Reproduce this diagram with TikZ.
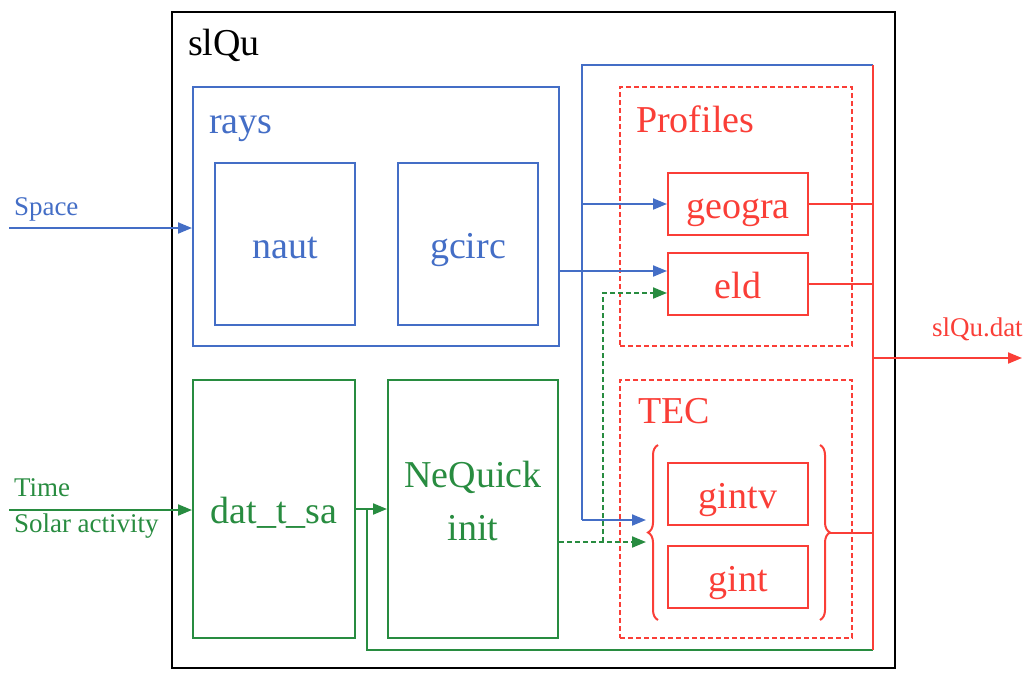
\documentclass[tikz,border=0pt]{standalone}
\usepackage{fontspec}
\setmainfont{Liberation Serif}
\usetikzlibrary{arrows.meta,calc,decorations.pathreplacing}
\definecolor{rblue}{RGB}{68,110,198}
\definecolor{rgreen}{RGB}{40,140,64}
\definecolor{rred}{RGB}{250,62,55}

\begin{document}
\begin{tikzpicture}[x=1pt,y=-1pt,line width=2pt,
  box/.style={draw,inner sep=0pt,align=center,text height=38pt,text depth=10pt,font=\fontsize{38}{42}\selectfont},
  lbl/.style={anchor=base west,inner sep=0pt,font=\fontsize{38}{42}\selectfont},
  small/.style={anchor=base west,inner sep=0pt,font=\fontsize{27}{30}\selectfont},
  tip/.style={-{Triangle[length=14pt,width=11pt]}},
  dsh/.style={dash pattern=on 5pt off 3pt}]
\useasboundingbox (0,0) rectangle (1026,673);
% frame
\node[box,draw=black,line width=2.8pt,minimum width=723pt,minimum height=656pt] (slqu) at (533.5,340) {};
\node[lbl] (slqulbl) at (187,55) {slQu};
% rays
\node[box,draw=rblue,minimum width=366pt,minimum height=259pt] (rays) at (376,216.5) {};
\node[lbl,text=rblue] (rayslbl) at (208,133) {rays};
\node[box,draw=rblue,text=rblue,minimum width=140pt,minimum height=162pt] (naut) at (285,244) {naut};
\node[box,draw=rblue,text=rblue,minimum width=140pt,minimum height=162pt] (gcirc) at (468,244) {gcirc};
% green part
\node[box,draw=rgreen,text=rgreen,minimum width=162pt,minimum height=258pt] (dat) at (274,509) {dat\_t\_sa};
\node[box,draw=rgreen,minimum width=170pt,minimum height=258pt] (neq) at (473,509) {};
\node[lbl,anchor=base,text=rgreen] (neqlbl) at (473,487) {NeQuick};
\node[lbl,anchor=base,text=rgreen] (neqlbl2) at (473,540) {init};
% profiles, tec
\node[box,draw=rred,dsh,minimum width=232pt,minimum height=259pt] (prof) at (736,216.5) {};
\node[lbl,text=rred] (proflbl) at (635,132) {Profiles};
\node[box,draw=rred,dsh,minimum width=232pt,minimum height=258pt] (tec) at (736,509) {};
\node[lbl,text=rred] (teclbl) at (637,423) {TEC};
\node[box,draw=rred,text=rred,minimum width=140pt,minimum height=62pt] (geogra) at (738,204) {geogra};
\node[box,draw=rred,text=rred,minimum width=140pt,minimum height=62pt] (eld) at (738,284) {eld};
\node[box,draw=rred,text=rred,minimum width=140pt,minimum height=62pt] (gintv) at (738,494) {gintv};
\node[box,draw=rred,text=rred,minimum width=140pt,minimum height=62pt] (gint) at (738,577) {gint};
\draw[rred,decorate,decoration={brace,amplitude=10pt}] (658,620) -- (658,445);
\draw[rred,decorate,decoration={brace,amplitude=10pt}] (820,445) -- (820,620);
\coordinate (lbr) at (648,532.5);
\coordinate (rbr) at (830,532.5);
% inputs
\coordinate (spc) at (9,228);
\node[small,text=rblue] (spclbl) at (13,215) {Space};
\draw[rblue,tip] (spc) -- (spc -| rays.west);
\coordinate (tim) at (9,510);
\node[small,text=rgreen] (timlbl) at (13,496) {Time};
\node[small,text=rgreen] (sollbl) at (13,532) {Solar activity};
\draw[rgreen,tip] (tim) -- (tim -| dat.west);
\draw[rgreen,tip] (dat.east) -- (neq.west);
% buses
\coordinate (bust) at (873,65);
\coordinate (busb) at (873,650);
\coordinate (bt) at (582,65);
\coordinate (bb) at (582,520);
\coordinate (gj) at ($(dat.east)+(11,0)$);
\draw[rgreen] (gj) |- (busb);
\draw[rblue] (bust) -- (bt) -- (bb);
\draw[rred] (bust) -- (busb);
\draw[rblue,tip] (bb) -- (bb -| 646,0);
\draw[rblue,tip] (bt |- geogra.west) -- (geogra.west);
\coordinate (eldb) at ($(eld.west)+(0,-13)$);
\draw[rblue,tip] (eldb -| rays.east) -- (eldb);
% dashed from NeQuick
\coordinate (eldg) at ($(eld.west)+(0,9)$);
\coordinate (neqg) at ($(neq.east)+(0,33)$);
\coordinate (gv) at (603,542);
\draw[rgreen,dsh,tip] (neqg) -- (neqg -| 646,0);
\draw[rgreen,dsh,tip] (gv) |- (eldg);
% outputs
\draw[rred] (geogra.east) -- (geogra.east -| busb);
\draw[rred] (eld.east) -- (eld.east -| busb);
\draw[rred] (rbr) -- (rbr -| busb);
\coordinate (out) at (1022,358);
\draw[rred,tip] (out -| busb) -- (out);
\node[small,text=rred] (outlbl) at (931,336) {slQu.dat};
\end{tikzpicture}
\end{document}
